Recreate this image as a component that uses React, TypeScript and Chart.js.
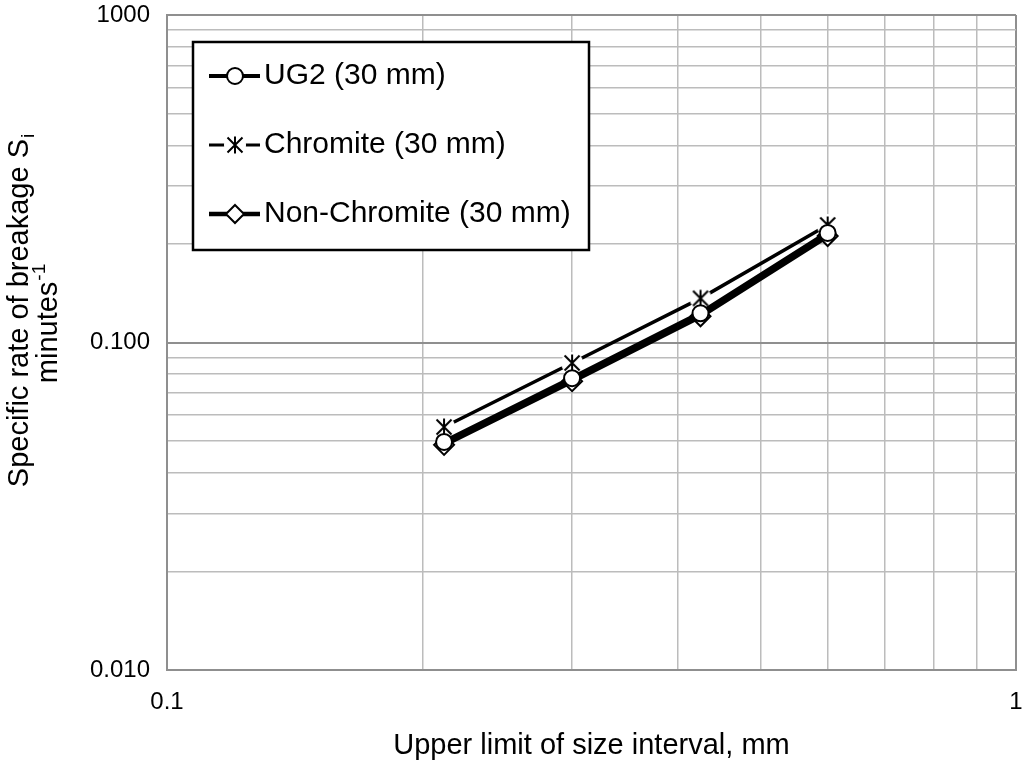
import React, { useEffect, useRef } from 'react';
import { Chart, registerables } from 'chart.js';

Chart.register(...registerables);

const FONT = '"Liberation Sans", Arial, Helvetica, sans-serif';
Chart.defaults.font.family = FONT;
Chart.defaults.color = '#000';

// ---- data ----
const sizes = [0.212, 0.3, 0.425, 0.6];
const ug2 = [0.0497, 0.0778, 0.1228, 0.216];
const chromite = [0.0552, 0.0866, 0.1364, 0.2285];
const nonChromite = [0.0487, 0.0762, 0.1202, 0.2115];
const seriesLabels = ['UG2 (30 mm)', 'Chromite (30 mm)', 'Non-Chromite (30 mm)'];

const xGridValues = [0.1, 0.2, 0.3, 0.4, 0.5, 0.6, 0.7, 0.8, 0.9, 1];
const yGridValues = [
  0.01, 0.02, 0.03, 0.04, 0.05, 0.06, 0.07, 0.08, 0.09,
  0.1, 0.2, 0.3, 0.4, 0.5, 0.6, 0.7, 0.8, 0.9, 1,
];
const xTickLabels: Record<string, string> = { '0.1': '0.1', '1': '1' };
const yTickLabels: Record<string, string> = { '0.01': '0.010', '0.1': '0.100', '1': '1000' };

const xTitle = 'Upper limit of size interval, mm';
const yTitleMain = 'Specific rate of breakage S';
const yTitleSub = 'i';
const yTitleLine2 = 'minutes';
const yTitleSup = '-1';

const keyOf = (v: number) => String(Number(Number(v).toPrecision(6)));
const isMajor = (v: number) => {
  const l = Math.log10(v);
  return Math.abs(l - Math.round(l)) < 1e-6;
};

function makeAsterisk(): HTMLCanvasElement {
  const c = document.createElement('canvas');
  c.width = 24;
  c.height = 24;
  const g = c.getContext('2d')!;
  g.fillStyle = '#fff';
  g.beginPath();
  g.arc(12, 12, 11, 0, Math.PI * 2);
  g.fill();
  g.strokeStyle = '#000';
  g.lineWidth = 2;
  g.beginPath();
  g.moveTo(12, 3.5);
  g.lineTo(12, 20.5);
  g.moveTo(4.5, 4.5);
  g.lineTo(19.5, 19.5);
  g.moveTo(19.5, 4.5);
  g.lineTo(4.5, 19.5);
  g.stroke();
  return c;
}

function drawMarker(ctx: CanvasRenderingContext2D, style: any, x: number, y: number, r: number) {
  ctx.save();
  ctx.fillStyle = '#fff';
  ctx.strokeStyle = '#000';
  ctx.lineWidth = 2;
  if (style === 'circle') {
    ctx.beginPath();
    ctx.arc(x, y, r, 0, Math.PI * 2);
    ctx.fill();
    ctx.stroke();
  } else if (style === 'rectRot') {
    ctx.beginPath();
    ctx.moveTo(x, y - r);
    ctx.lineTo(x + r, y);
    ctx.lineTo(x, y + r);
    ctx.lineTo(x - r, y);
    ctx.closePath();
    ctx.fill();
    ctx.stroke();
  } else if (style && style.width) {
    ctx.drawImage(style, x - style.width / 2, y - style.height / 2);
  }
  ctx.restore();
}

const legendPlugin = {
  id: 'boxLegend',
  afterDraw(chart: any) {
    const { ctx, chartArea } = chart;
    const x = chartArea.left + 26;
    const y = chartArea.top + 27;
    const w = 396;
    const h = 208;
    const rows = [34, 103, 172];
    const lineW = [4, 3, 4.5];
    const mr = [8, 0, 9];
    ctx.save();
    ctx.fillStyle = '#fff';
    ctx.fillRect(x, y, w, h);
    ctx.lineWidth = 2.5;
    ctx.strokeStyle = '#000';
    ctx.strokeRect(x, y, w, h);
    chart.data.datasets.forEach((ds: any, i: number) => {
      const cy = y + rows[i];
      ctx.strokeStyle = '#000';
      ctx.lineWidth = lineW[i];
      ctx.beginPath();
      ctx.moveTo(x + 16, cy);
      ctx.lineTo(x + 67, cy);
      ctx.stroke();
      drawMarker(ctx, ds.pointStyle, x + 42, cy, mr[i]);
      ctx.fillStyle = '#000';
      ctx.font = '30px ' + FONT;
      ctx.textAlign = 'left';
      ctx.textBaseline = 'middle';
      ctx.fillText(ds.label, x + 71, cy);
    });
    ctx.restore();
  },
};

const yTitlePlugin = {
  id: 'yTitle',
  afterDraw(chart: any) {
    const { ctx } = chart;
    const big = '29px ' + FONT;
    const small = '19px ' + FONT;
    ctx.save();
    ctx.fillStyle = '#000';
    ctx.textAlign = 'left';
    ctx.textBaseline = 'alphabetic';
    ctx.font = big;
    const w1 = ctx.measureText(yTitleMain).width;
    ctx.font = small;
    const w1s = ctx.measureText(yTitleSub).width;
    ctx.save();
    ctx.translate(28, 311);
    ctx.rotate(-Math.PI / 2);
    const s1 = -(w1 + w1s) / 2;
    ctx.font = big;
    ctx.fillText(yTitleMain, s1, 0);
    ctx.font = small;
    ctx.fillText(yTitleSub, s1 + w1 + 1, 6);
    ctx.restore();
    ctx.font = big;
    const w2 = ctx.measureText(yTitleLine2).width;
    ctx.font = small;
    const w2s = ctx.measureText(yTitleSup).width;
    ctx.save();
    ctx.translate(57, 324);
    ctx.rotate(-Math.PI / 2);
    const s2 = -(w2 + w2s) / 2;
    ctx.font = big;
    ctx.fillText(yTitleLine2, s2, 0);
    ctx.font = small;
    ctx.fillText(yTitleSup, s2 + w2 + 1, -12);
    ctx.restore();
    ctx.restore();
  },
};

const gridColor = (c: any) => (c.tick && isMajor(c.tick.value) ? '#8f8f8f' : '#bcbcbc');
const gridWidth = (c: any) => (c.tick && isMajor(c.tick.value) ? 2 : 1.5);

const zeroPad = (s: any) => {
  s.paddingTop = 0;
  s.paddingBottom = 0;
  s.paddingLeft = 0;
  s.paddingRight = 0;
};

export default function App() {
  const ref = useRef<HTMLCanvasElement>(null);

  useEffect(() => {
    const asterisk = makeAsterisk();
    const toPts = (ys: number[]) => sizes.map((x, i) => ({ x, y: ys[i] }));
    const chart = new Chart(ref.current!, {
      type: 'line',
      data: {
        datasets: [
          {
            label: seriesLabels[0],
            data: toPts(ug2),
            borderColor: '#000',
            borderWidth: 5,
            pointStyle: 'circle',
            pointRadius: 8,
            pointBorderWidth: 2,
            pointBackgroundColor: '#fff',
            pointBorderColor: '#000',
            order: 1,
          },
          {
            label: seriesLabels[1],
            data: toPts(chromite),
            borderColor: '#000',
            borderWidth: 3.5,
            pointStyle: asterisk as any,
            pointRadius: 12,
            pointBackgroundColor: '#fff',
            pointBorderColor: '#000',
            order: 3,
          },
          {
            label: seriesLabels[2],
            data: toPts(nonChromite),
            borderColor: '#000',
            borderWidth: 5,
            pointStyle: 'rectRot',
            pointRadius: 10,
            pointBorderWidth: 2,
            pointBackgroundColor: '#fff',
            pointBorderColor: '#000',
            order: 2,
          },
        ],
      },
      options: {
        responsive: false,
        animation: false,
        devicePixelRatio: 1,
        parsing: false as any,
        layout: { autoPadding: false, padding: { top: 15, right: 8, left: 0, bottom: 0 } },
        plugins: {
          legend: { display: false },
          tooltip: { enabled: false },
        },
        scales: {
          x: {
            type: 'logarithmic',
            position: 'bottom',
            min: 0.1,
            max: 1,
            afterBuildTicks: (s: any) => {
              s.ticks = xGridValues.map((v) => ({ value: v, major: isMajor(v) }));
            },
            grid: { color: gridColor, lineWidth: gridWidth, drawTicks: false },
            border: { display: true, color: '#8f8f8f', width: 2 },
            ticks: {
              autoSkip: false,
              maxRotation: 0,
              padding: 18,
              color: '#000',
              font: { size: 24 },
              callback: (v: any) => xTickLabels[keyOf(v)] ?? '',
            },
            title: {
              display: true,
              text: xTitle,
              color: '#000',
              font: { size: 29 },
              padding: { top: 0, bottom: 1 },
            },
            afterFit: (s: any) => {
              s.height = 94;
              zeroPad(s);
            },
          },
          y: {
            type: 'logarithmic',
            position: 'left',
            min: 0.01,
            max: 1,
            afterBuildTicks: (s: any) => {
              s.ticks = yGridValues.map((v) => ({ value: v, major: isMajor(v) }));
            },
            grid: { color: gridColor, lineWidth: gridWidth, drawTicks: false },
            border: { display: true, color: '#8f8f8f', width: 2 },
            ticks: {
              autoSkip: false,
              padding: 17,
              color: '#000',
              font: { size: 24 },
              callback: (v: any) => yTickLabels[keyOf(v)] ?? '',
            },
            afterFit: (s: any) => {
              s.width = 167;
              zeroPad(s);
            },
          },
        },
      },
      plugins: [legendPlugin, yTitlePlugin],
    } as any);
    return () => chart.destroy();
  }, []);

  return (
    <div style={{ position: 'absolute', left: 0, top: 0, width: 1024, height: 764, background: '#fff' }}>
      <canvas ref={ref} width={1024} height={764} style={{ display: 'block', width: 1024, height: 764 }} />
    </div>
  );
}
